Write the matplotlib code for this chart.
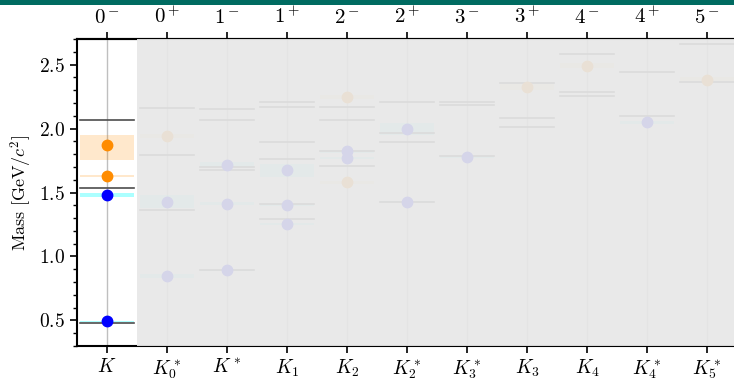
import matplotlib
matplotlib.use("Agg")
import matplotlib.pyplot as plt
from matplotlib import patches
from matplotlib.ticker import MultipleLocator, FormatStrFormatter

plt.rcParams['mathtext.fontset'] = 'cm'
plt.rcParams['font.family'] = 'serif'
plt.rcParams['font.serif'] = ['DejaVu Serif']

# Kaon families, one column per J^P
families = [r'$K$', r'$K_0^*$', r'$K^*$', r'$K_1$', r'$K_2$', r'$K_2^*$',
            r'$K_3^*$', r'$K_3$', r'$K_4$', r'$K_4^*$', r'$K_5^*$']
jp_labels = [r'$0^-$', r'$0^+$', r'$1^-$', r'$1^+$', r'$2^-$', r'$2^+$',
             r'$3^-$', r'$3^+$', r'$4^-$', r'$4^+$', r'$5^-$']

# Model predictions (GeV/c^2)
predicted = [
    [2.066, 1.536, 0.478],
    [2.160, 1.793, 1.360],
    [2.155, 2.066, 1.700, 1.676, 0.896],
    [2.205, 2.166, 1.895, 1.759, 1.412, 1.293],
    [2.166, 2.066, 1.825, 1.710],
    [2.210, 1.962, 1.897, 1.424],
    [2.210, 2.184, 1.785],
    [2.353, 2.080, 2.010],
    [2.580, 2.287, 2.256],
    [2.440, 2.098],
    [2.658, 2.360],
]

# Established states: mass and uncertainty
est_mass = [
    [1.482, 0.494],
    [1.428, 0.845],
    [1.717, 1.414, 0.892],
    [1.672, 1.402, 1.253],
    [1.822, 1.772],
    [1.996, 1.426],
    [1.780],
    [],
    [],
    [2.048],
    [],
]
est_err = [
    [0.018, 0.004],
    [0.050, 0.017],
    [0.018, 0.015, 0.004],
    [0.050, 0.007, 0.007],
    [0.012, 0.008],
    [0.050, 0.004],
    [0.007],
    [],
    [],
    [0.009],
    [],
]

# Unconfirmed states: mass with lower / upper uncertainty
unc_mass = [
    [1.874, 1.629],
    [1.944],
    [],
    [],
    [2.248, 1.580],
    [],
    [],
    [2.324],
    [2.490],
    [],
    [2.380],
]
unc_err_lo = [
    [0.120, 0.010],
    [0.015],
    [],
    [],
    [0.017, 0.010],
    [],
    [],
    [0.024],
    [0.020],
    [],
    [0.024],
]
unc_err_hi = [
    [0.076, 0.010],
    [0.015],
    [],
    [],
    [0.017, 0.010],
    [],
    [],
    [0.024],
    [0.020],
    [],
    [0.024],
]

half = 0.45

fig = plt.figure(figsize=(7.34, 3.82), dpi=100)
ax = fig.add_axes([77 / 734, 36 / 382, 660 / 734, 307 / 382])

for i in range(len(families)):
    for m, e in zip(est_mass[i], est_err[i]):
        ax.fill_between([i - half, i + half], m - e, m + e,
                        color='cyan', alpha=0.33, lw=0, zorder=1)
    for m, lo, hi in zip(unc_mass[i], unc_err_lo[i], unc_err_hi[i]):
        ax.fill_between([i - half, i + half], m - lo, m + hi,
                        color='darkorange', alpha=0.2, lw=0, zorder=1)
    for m in predicted[i]:
        ax.plot([i - half, i + half], [m, m], color='0.3', lw=1.2, zorder=2)
    ax.plot([i] * len(est_mass[i]), est_mass[i], 'o', color='blue',
            ms=7.5, zorder=3)
    ax.plot([i] * len(unc_mass[i]), unc_mass[i], 'o', color='darkorange',
            ms=7.5, zorder=3)

# Grey out every family except the first
ax.add_patch(patches.Rectangle((0.5, 0), 10.0, 1, transform=ax.get_xaxis_transform(),
                               facecolor='0.91', alpha=0.92, lw=0, zorder=5))

ax.set_xlim(-0.5, 10.5)
ax.set_ylim(0.3, 2.7)
ax.set_xticks(range(len(families)), labels=families)
ax.xaxis.grid(True, color='0.75', lw=1)
ax.set_axisbelow(True)
ax.yaxis.set_major_locator(MultipleLocator(0.5))
ax.yaxis.set_minor_locator(MultipleLocator(0.1))
ax.yaxis.set_major_formatter(FormatStrFormatter(r'$%.1f$'))
ax.tick_params(axis='both', which='major', labelsize=14, length=5, width=1.2,
               direction='out')
ax.tick_params(axis='y', which='minor', length=3, width=1)
ax.spines['right'].set_visible(False)
for s in ('left', 'top', 'bottom'):
    ax.spines[s].set_linewidth(1.5)
ax.set_ylabel(r'$\mathrm{Mass}\ [\mathrm{GeV}/c^2]$', fontsize=13)

top = ax.secondary_xaxis('top')
top.set_xticks(range(len(jp_labels)), labels=jp_labels)
top.tick_params(labelsize=15, length=5, width=1.2)
top.spines['top'].set_linewidth(1.5)

fig.patches.append(patches.Rectangle((0, 1 - 5 / 382), 1, 5 / 382,
                                     transform=fig.transFigure,
                                     facecolor='#006b61', lw=0))

fig.savefig('out.png', dpi=100)
